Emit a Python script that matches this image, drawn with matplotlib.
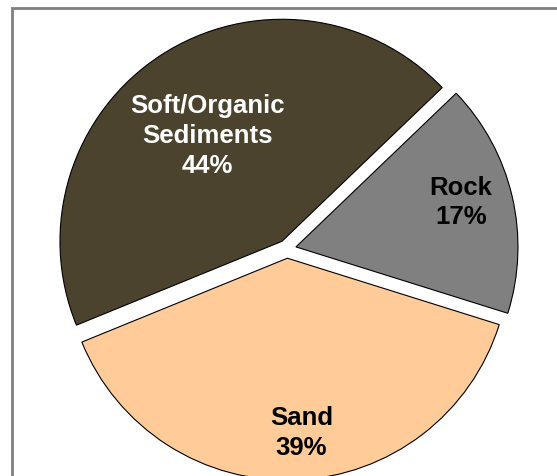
import numpy as np
import matplotlib.pyplot as plt
from matplotlib.patches import Rectangle

labels = ['Soft/Organic\nSediments', 'Sand', 'Rock']
values = [44, 39, 17]
colors = ['#4b432e', '#ffcc99', '#808080']
text_colors = ['white', 'black', 'black']
label_dist = [0.585, 0.785, 0.77]

plt.rcParams['font.family'] = ['Liberation Sans', 'DejaVu Sans']

fig = plt.figure(figsize=(5.57, 4.77), dpi=100)
ax = fig.add_axes([0, 0, 1, 1])

# outer frame, only top and left visible
ax.add_patch(Rectangle((12, -20), 600, 488, fill=False, ec='#808080', lw=2))

cx, cy, r = 287, 227, 222
expl = 0.0415 * r  # pie explode is in data units
wedges, _ = ax.pie(values, colors=colors, startangle=43.8, center=(cx, cy),
                   radius=r, explode=[expl] * 3, frame=True,
                   wedgeprops=dict(edgecolor='black', linewidth=0.8))
ax.set_xlim(0, 557)
ax.set_ylim(0, 477)
ax.set_aspect('equal')
ax.axis('off')

for w, lab, v, tc, d in zip(wedges, labels, values, text_colors, label_dist):
    ang = np.deg2rad((w.theta1 + w.theta2) / 2 + 2.2)
    wx, wy = w.center
    x = wx + d * r * np.cos(ang)
    y = wy + d * r * np.sin(ang)
    ax.text(x, y, f'{lab}\n{v}%', ha='center', va='center', color=tc,
            fontsize=18.5, fontweight='bold', linespacing=1.3)

fig.savefig('out.png', dpi=100)
